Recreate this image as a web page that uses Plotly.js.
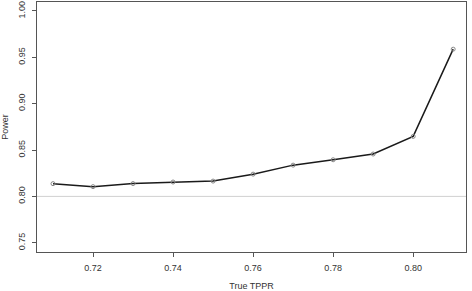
<!DOCTYPE html>
<html>
<head>
<meta charset="utf-8">
<script src="https://cdn.plot.ly/plotly-3.0.1.min.js"></script>
<style>
html,body{margin:0;padding:0;background:#fff;}
#chart{width:472px;height:291px;}
</style>
</head>
<body>
<div id="chart"></div>
<script>
const truePPR = [0.71, 0.72, 0.73, 0.74, 0.75, 0.76, 0.77, 0.78, 0.79, 0.80, 0.81];
const power   = [0.8137, 0.8105, 0.8138, 0.8155, 0.8165, 0.8240, 0.8337, 0.8395, 0.8457, 0.8647, 0.9588];
const xTicks = [0.72, 0.74, 0.76, 0.78, 0.80];
const xTickText = ["0.72", "0.74", "0.76", "0.78", "0.80"];
const yTicks = [0.75, 0.80, 0.85, 0.90, 0.95, 1.00];
const yTickText = ["0.75", "0.80", "0.85", "0.90", "0.95", "1.00"];
const refLevel = 0.80;

const font = {family: "Liberation Sans, Arial, sans-serif", size: 9, color: "#333"};

const trace = {
  x: truePPR, y: power,
  type: "scatter", mode: "lines+markers",
  line: {color: "#1a1a1a", width: 1.5},
  marker: {symbol: "circle-open", size: 4, color: "#888", line: {width: 1, color: "#888"}},
  hoverinfo: "skip"
};

const axisCommon = {
  showgrid: false, zeroline: false,
  showline: true, mirror: true, linecolor: "#555", linewidth: 1,
  ticks: "outside", ticklen: 4, tickcolor: "#555", tickwidth: 1,
  tickfont: font
};

const layout = {
  width: 472, height: 291,
  margin: {l: 37, r: 6, t: 2, b: 39},
  paper_bgcolor: "#fff", plot_bgcolor: "#fff",
  showlegend: false,
  font: font,
  xaxis: Object.assign({}, axisCommon, {
    range: [0.706, 0.8132],
    tickmode: "array", tickvals: xTicks, ticktext: xTickText,
    ticklabelstandoff: 3,
    title: {text: "True TPPR", font: font, standoff: 11}
  }),
  yaxis: Object.assign({}, axisCommon, {
    range: [0.74, 1.0097],
    tickmode: "array", tickvals: yTicks, ticktext: yTickText,
    tickangle: -90,
    ticklabelstandoff: 3,
    title: {text: "Power", font: font, standoff: 7}
  }),
  shapes: [{
    type: "line", xref: "paper", x0: 0, x1: 1, yref: "y", y0: refLevel, y1: refLevel,
    line: {color: "#d0d0d0", width: 1}, layer: "below"
  }]
};

Plotly.newPlot("chart", [trace], layout, {staticPlot: true, displayModeBar: false});
</script>
</body>
</html>
